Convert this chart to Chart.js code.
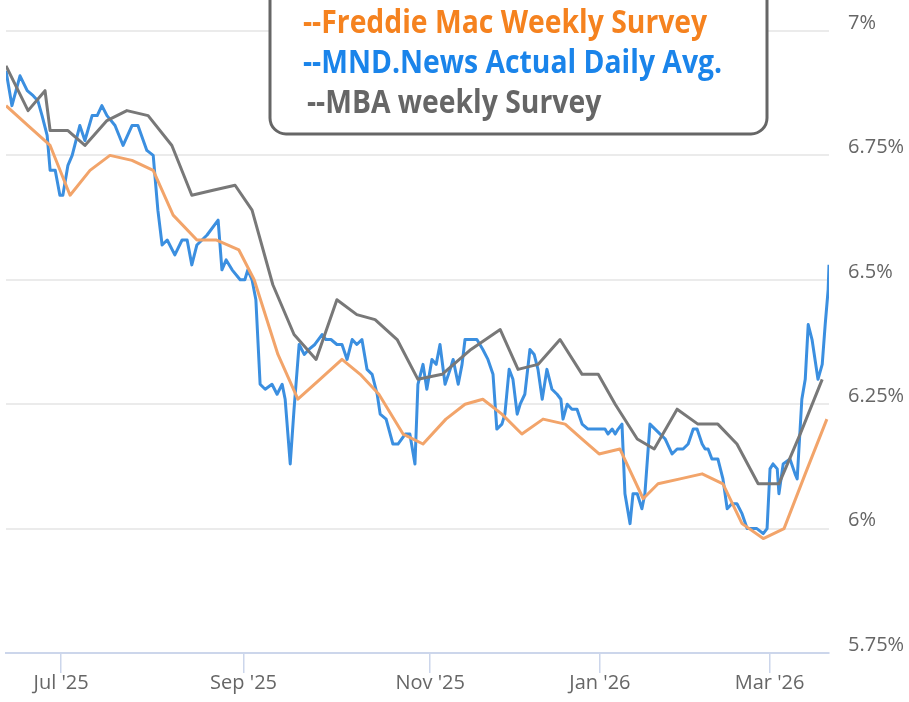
<!DOCTYPE html>
<html>
<head>
<meta charset="utf-8">
<script src="https://cdn.jsdelivr.net/npm/chart.js@4.4.0/dist/chart.umd.min.js"></script>
<style>
  html, body { margin: 0; padding: 0; background: #fff; overflow: hidden; }
  canvas { display: block; }
</style>
</head>
<body>
<canvas id="rateChart" width="909" height="702"></canvas>
<script>
// x values are trading-day indexes (ordinal axis), 0 = first trading day of Jul 2025
const xTickDays = [0, 43, 87, 127, 167];
const xTickLabels = ["Jul '25", "Sep '25", "Nov '25", "Jan '26", "Mar '26"];
const yTicks = [5.75, 6, 6.25, 6.5, 6.75, 7];
const yTickLabels = ['5.75%', '6%', '6.25%', '6.5%', '6.75%', '7%'];

// MND.News actual daily average
const mndDays = [
  -13.0, -11.6, -9.7, -8.0, -6.6, -5.5, -4.5, -3.3, -2.6, -1.4, -0.3, 0.4, 1.6, 2.6, 4.4, 5.6,
  7.3, 8.5, 9.6, 10.8, 12.7, 14.6, 16.7, 18.1, 20.2, 21.7, 22.8, 23.8, 25.0, 26.8, 28.5, 29.7,
  30.8, 32.0, 34.4, 37.0, 37.9, 38.9, 40.3, 42.2, 43.3, 44.0, 45.0, 45.9, 46.9, 48.1, 49.7, 50.9,
  52.1, 52.8, 54.0, 54.9, 56.1, 57.3, 58.4, 59.8, 61.5, 62.4, 63.6, 65.0, 66.2, 67.4, 68.6, 69.7,
  70.9, 72.1, 73.3, 74.5, 75.2, 76.6, 78.2, 79.4, 81.1, 82.2, 83.4, 84.1, 85.3, 86.2, 87.4, 88.4,
  89.3, 90.5, 91.7, 92.4, 93.6, 94.5, 95.2, 96.4, 98.0, 99.4, 100.6, 101.8, 102.7, 103.9, 104.6, 105.6,
  106.5, 107.5, 108.2, 109.3, 110.5, 111.5, 112.4, 113.4, 114.5, 115.7, 116.9, 117.8, 118.3, 119.3, 120.4, 121.6,
  122.8, 124.2, 125.9, 127.0, 128.2, 128.9, 129.9, 130.6, 131.3, 132.2, 132.9, 134.1, 134.8, 135.8, 136.9, 137.6,
  138.8, 140.0, 141.2, 142.4, 144.0, 145.2, 146.6, 147.8, 149.0, 149.9, 151.1, 151.8, 152.5, 153.4, 154.1, 154.8,
  156.0, 157.0, 158.1, 159.3, 160.5, 161.7, 162.9, 164.0, 165.5, 166.4, 167.1, 167.8, 168.8, 169.2, 170.2, 171.8,
  173.0, 173.5, 174.6, 175.4, 176.1, 177.0, 178.4, 179.4, 180.1, 180.8, 181.0
];
const mndRates = [
  6.92, 6.85, 6.91, 6.88, 6.87, 6.86, 6.83, 6.79, 6.72, 6.72, 6.67, 6.67, 6.73, 6.75, 6.81, 6.78,
  6.83, 6.83, 6.85, 6.83, 6.81, 6.77, 6.81, 6.81, 6.76, 6.75, 6.64, 6.57, 6.58, 6.55, 6.58, 6.58,
  6.53, 6.57, 6.59, 6.62, 6.52, 6.54, 6.52, 6.50, 6.50, 6.52, 6.50, 6.46, 6.29, 6.28, 6.29, 6.27,
  6.29, 6.26, 6.13, 6.24, 6.37, 6.35, 6.36, 6.37, 6.39, 6.38, 6.38, 6.37, 6.37, 6.34, 6.38, 6.37,
  6.38, 6.32, 6.31, 6.27, 6.23, 6.22, 6.17, 6.17, 6.19, 6.19, 6.13, 6.29, 6.33, 6.28, 6.34, 6.33,
  6.37, 6.29, 6.32, 6.34, 6.29, 6.33, 6.38, 6.38, 6.38, 6.36, 6.34, 6.31, 6.20, 6.21, 6.23, 6.32,
  6.30, 6.23, 6.25, 6.27, 6.36, 6.35, 6.32, 6.26, 6.32, 6.28, 6.27, 6.26, 6.22, 6.25, 6.24, 6.24,
  6.21, 6.20, 6.20, 6.20, 6.20, 6.19, 6.20, 6.19, 6.20, 6.21, 6.07, 6.01, 6.07, 6.07, 6.04, 6.07,
  6.21, 6.20, 6.19, 6.18, 6.15, 6.16, 6.16, 6.17, 6.20, 6.20, 6.17, 6.16, 6.16, 6.14, 6.14, 6.14,
  6.10, 6.04, 6.05, 6.05, 6.03, 6.00, 6.00, 6.00, 5.99, 6.00, 6.12, 6.13, 6.12, 6.07, 6.13, 6.14,
  6.11, 6.10, 6.26, 6.30, 6.41, 6.38, 6.30, 6.33, 6.41, 6.48, 6.53
];

// Freddie Mac weekly survey
const freddieDays = [-13.0, -7.8, -2.6, 2.1, 6.8, 11.5, 16.7, 21.7, 26.4, 32.0, 36.5, 41.9, 45.5, 51.1,
  55.8, 61.0, 66.2, 70.5, 74.9, 80.6, 85.3, 90.7, 95.2, 99.4, 103.9, 108.6, 113.6, 118.8, 122.8,
  126.8, 131.7, 137.2, 140.7, 145.9, 151.1, 156.0, 160.5, 165.5, 170.4, 175.4, 180.5];
const freddieRates = [6.85, 6.81, 6.77, 6.67, 6.72, 6.75, 6.74, 6.72, 6.63, 6.58, 6.58, 6.56, 6.50, 6.35,
  6.26, 6.30, 6.34, 6.31, 6.27, 6.19, 6.17, 6.22, 6.25, 6.26, 6.23, 6.19, 6.22, 6.21, 6.18,
  6.15, 6.16, 6.06, 6.09, 6.10, 6.11, 6.09, 6.01, 5.98, 6.00, 6.11, 6.22];

// MBA weekly survey
const mbaDays = [-13.0, -7.8, -3.8, -2.6, 1.6, 5.6, 10.8, 15.5, 20.5, 26.1, 30.8, 35.8, 41.0, 45.0,
  49.9, 54.9, 60.1, 65.0, 69.7, 74.0, 79.2, 84.1, 89.8, 96.6, 103.5, 107.7, 112.4, 117.6, 122.8,
  126.6, 130.6, 135.8, 139.8, 145.2, 150.1, 154.8, 159.3, 164.3, 169.2, 174.2, 179.4];
const mbaRates = [6.93, 6.84, 6.88, 6.80, 6.80, 6.77, 6.82, 6.84, 6.83, 6.77, 6.67, 6.68, 6.69, 6.64,
  6.49, 6.39, 6.34, 6.46, 6.43, 6.42, 6.38, 6.30, 6.31, 6.36, 6.40, 6.32, 6.33, 6.38, 6.31,
  6.31, 6.25, 6.18, 6.16, 6.24, 6.21, 6.21, 6.17, 6.09, 6.09, 6.19, 6.30];

const legendLabels = ['--Freddie Mac Weekly Survey', '--MND.News Actual Daily Avg.', '--MBA weekly Survey'];
const legendColors = ['#f5821f', '#1a84ea', '#666666'];

const toPoints = (xs, ys) => xs.map((x, i) => ({ x: x, y: ys[i] }));

// rounded box with the series names, drawn over the top of the plot
const legendBox = {
  id: 'legendBox',
  afterDatasetsDraw(chart) {
    const ctx = chart.ctx;
    ctx.save();
    ctx.beginPath();
    ctx.roundRect(270, -20, 497, 154, 16);
    ctx.fillStyle = '#fff';
    ctx.fill();
    ctx.lineWidth = 3;
    ctx.strokeStyle = '#666';
    ctx.stroke();
    ctx.font = 'bold 32px "Open Sans"';
    ctx.textBaseline = 'alphabetic';
    ctx.textAlign = 'left';
    const textX = [303, 303, 307];
    legendLabels.forEach((txt, i) => {
      ctx.save();
      ctx.translate(textX[i], 33 + i * 40);
      ctx.scale(0.885, 1);
      ctx.fillStyle = legendColors[i];
      ctx.fillText(txt, 0, 0);
      ctx.restore();
    });
    ctx.restore();
  }
};

const canvasElement = document.getElementById('rateChart');
new Chart(canvasElement.getContext('2d'), {
  type: 'line',
  data: {
    datasets: [
      {
        label: 'Freddie Mac Weekly Survey',
        data: toPoints(freddieDays, freddieRates),
        borderColor: '#f2a46a',
        borderWidth: 3
      },
      {
        label: 'MBA weekly Survey',
        data: toPoints(mbaDays, mbaRates),
        borderColor: '#787878',
        borderWidth: 3
      },
      {
        label: 'MND.News Actual Daily Avg.',
        data: toPoints(mndDays, mndRates),
        borderColor: '#3b8fe0',
        borderWidth: 3
      }
    ]
  },
  options: {
    responsive: false,
    animation: false,
    events: [],
    layout: { padding: { left: 6, top: 30, right: 0, bottom: 0 } },
    elements: { point: { radius: 0 }, line: { tension: 0, borderJoinStyle: 'round' } },
    plugins: { legend: { display: false }, tooltip: { enabled: false } },
    scales: {
      x: {
        type: 'linear',
        min: -13,
        max: 181,
        afterBuildTicks: scale => { scale.ticks = xTickDays.map(v => ({ value: v })); },
        afterFit: scale => { scale.height = 49; },
        border: { color: '#ccd6eb', width: 2 },
        grid: { drawOnChartArea: false, drawTicks: true, tickLength: 20, color: '#ccd6eb', lineWidth: 1.5 },
        ticks: {
          autoSkip: false,
          maxRotation: 0,
          padding: -2,
          color: '#666',
          font: { family: '"Open Sans"', size: 20 },
          callback: (val, i) => xTickLabels[i]
        }
      },
      y: {
        position: 'right',
        min: 5.75,
        max: 7,
        afterBuildTicks: scale => { scale.ticks = yTicks.map(v => ({ value: v })); },
        afterFit: scale => { scale.width = 80; },
        border: { display: false },
        grid: {
          drawTicks: false,
          lineWidth: 2,
          color: c => (c.tick && c.tick.value === 5.75) ? 'rgba(0,0,0,0)' : '#ebebeb'
        },
        ticks: {
          autoSkip: false,
          padding: 19,
          labelOffset: -8,
          color: '#666',
          font: { family: '"Open Sans"', size: 20 },
          callback: (val, i) => yTickLabels[i]
        }
      }
    }
  },
  plugins: [legendBox]
});
</script>
</body>
</html>
